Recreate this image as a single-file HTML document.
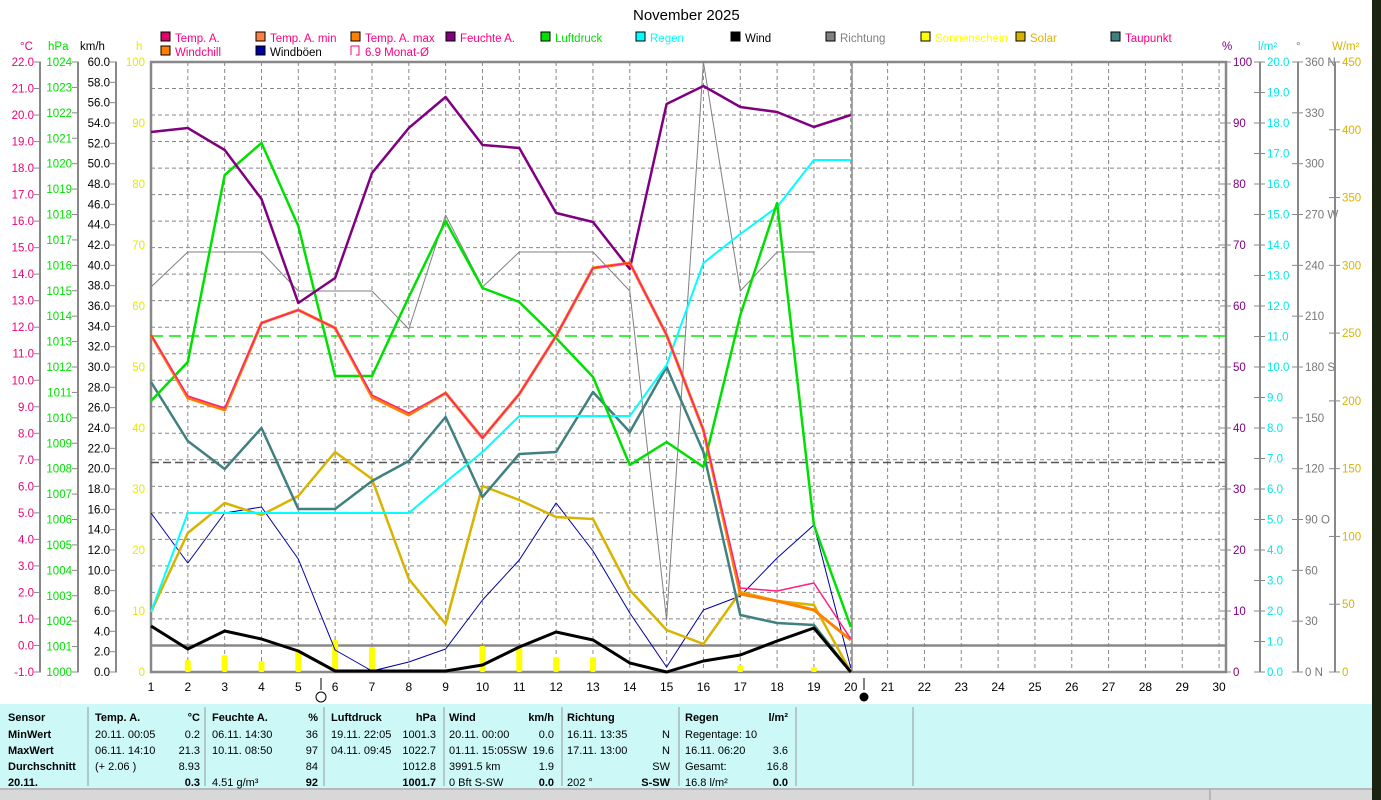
<!DOCTYPE html>
<html><head><meta charset="utf-8"><style>
body{margin:0;width:1381px;height:800px;overflow:hidden;background:#fff;font-family:"Liberation Sans",sans-serif}
svg{position:absolute;left:0;top:0}
</style></head><body>
<svg id="s" width="1381" height="800" xmlns="http://www.w3.org/2000/svg" font-family="Liberation Sans, sans-serif"></svg>
<script>
const S=document.getElementById('s');let h='';
const X=d=>151+(d-1)*36.83;
h+='<rect x="1372" y="0" width="9" height="800" fill="#1a2410"/>';
h+='<rect x="0" y="704" width="1372" height="84" fill="#ccf8f8"/>';
h+='<rect x="0" y="788" width="1372" height="12" fill="#d8d8d8"/><line x1="0" y1="789" x2="1372" y2="789" stroke="#999"/><line x1="1210" y1="789" x2="1210" y2="800" stroke="#999"/>';
[88,205,324,444,562,679,796,913].forEach(x=>h+=`<line x1="${x}" y1="707" x2="${x}" y2="786" stroke="#999"/>`);
for(let i=1;i<23;i++){let y=62+i*26.52;h+=`<line x1="151" y1="${y}" x2="1225" y2="${y}" stroke="#888" stroke-dasharray="4,3"/>`;}
for(let d=2;d<=30;d++){h+=`<line x1="${X(d)}" y1="62" x2="${X(d)}" y2="672" stroke="#888" stroke-dasharray="4,3"/>`;}
h+='<rect x="151" y="62" width="1075" height="610" fill="none" stroke="#888" stroke-width="2.5"/>';
h+='<line x1="852" y1="62" x2="852" y2="672" stroke="#888" stroke-width="1.5"/>';
h+='<line x1="151" y1="645.5" x2="1226" y2="645.5" stroke="#888" stroke-width="2.5"/>';
h+='<line x1="151" y1="336" x2="1226" y2="336" stroke="#0e0" stroke-width="1.5" stroke-dasharray="12,6"/>';
h+='<line x1="151" y1="462.5" x2="1226" y2="462.5" stroke="#555" stroke-width="1.5" stroke-dasharray="8,4"/>';
function axis(x,vals,col,fmt,y0,y1,lx){h+=`<line x1="${x}" y1="${y0}" x2="${x}" y2="${y1}" stroke="#888" stroke-width="2"/>`;
 vals.forEach((v,i)=>{let y=y0+(y1-y0)*i/(vals.length-1);h+=`<line x1="${x-6}" y1="${y}" x2="${x+1}" y2="${y}" stroke="#888"/><text x="${lx}" y="${y+4}" fill="${col}" font-size="11.5" text-anchor="end">${fmt(v)}</text>`;});}
let a=[];for(let v=22;v>=-1;v--)a.push(v);axis(40,a,'#f0007a',v=>v.toFixed(1),62,672,34);
a=[];for(let v=1024;v>=1000;v--)a.push(v);axis(78,a,'#00e000',v=>v,62,672,72);
a=[];for(let v=60;v>=0;v-=2)a.push(v);axis(116,a,'#000',v=>v.toFixed(1),62,672,110);
for(let i=0;i<=10;i++){let y=62+i*61;h+=`<text x="145" y="${y+4}" fill="#e8e800" font-size="11.5" text-anchor="end">${100-i*10}</text>`;}
function raxis(x,n,col,lab){h+=`<line x1="${x}" y1="62" x2="${x}" y2="672" stroke="#888" stroke-width="2"/>`;for(let i=0;i<=n;i++){let y=62+610*i/n;h+=`<line x1="${x-6}" y1="${y}" x2="${x+5}" y2="${y}" stroke="#888"/><text x="${x+7}" y="${y+4}" fill="${col}" font-size="11.5">${lab(i)}</text>`;}}
raxis(1226,10,'#800080',i=>100-i*10);
raxis(1260,20,'#00e8e8',i=>(20-i).toFixed(1));
const dl={0:' N',3:' W',6:' S',9:' O',12:' N'};
raxis(1298,12,'#777',i=>(360-i*30)+(dl[i]||''));
raxis(1335,9,'#d8b400',i=>450-i*50);
[[20,'°C','#f0007a'],[48,'hPa','#00e000'],[80,'km/h','#000'],[136,'h','#e8e800'],[1222,'%','#800080'],[1258,'l/m²','#00e8e8'],[1296,'°','#777'],[1332,'W/m²','#d8b400']].forEach(u=>h+=`<text x="${u[0]}" y="50" fill="${u[2]}" font-size="11.5">${u[1]}</text>`);
h+='<text x="633" y="20" font-size="15" fill="#000">November 2025</text>';
const L=[[161,38,'#e0006a','Temp. A.','#ff0080'],[256,38,'#ff8040','Temp. A. min','#ff0080'],[351,38,'#ff8000','Temp. A. max','#ff0080'],[446,38,'#800080','Feuchte A.','#ff0080'],[541,38,'#00e000','Luftdruck','#00e000'],[636,38,'#00ffff','Regen','#00ffff'],[731,38,'#000','Wind','#000'],[826,38,'#808080','Richtung','#808080'],[921,38,'#ffff00','Sonnenschein','#ffff00'],[1016,38,'#d8b400','Solar','#d8b400'],[1111,38,'#408080','Taupunkt','#ff0080'],[161,52,'#ff8000','Windchill','#ff0080'],[256,52,'#0000a0','Windböen','#000']];
L.forEach(l=>h+=`<rect x="${l[0]}" y="${l[1]-6}" width="9" height="9" fill="${l[2]}" stroke="#000"/><text x="${l[0]+14}" y="${l[1]+4}" fill="${l[4]}" font-size="11.5">${l[3]}</text>`);
h+='<path d="M351 46 h8 v9 h-3 M351 46 v9" fill="none" stroke="#ff0080"/><text x="365" y="56" fill="#ff0080" font-size="11.5">6.9 Monat-Ø</text>';
function line(ys,col,w,start=1){let p=ys.map((y,i)=>`${X(i+start).toFixed(1)},${y}`).join(' ');h+=`<polyline points="${p}" fill="none" stroke="${col}" stroke-width="${w}" stroke-linejoin="round"/>`;}
[[2,660],[3,655],[4,661],[5,651],[6,640],[7,647],[8,669],[10,646],[11,648],[12,657],[13,657],[17,665],[19,667]].forEach(b=>h+=`<rect x="${X(b[0])-3}" y="${b[1]}" width="6" height="${672-b[1]}" rx="2" fill="#ffff00"/>`);
line([287,252,252,252,291,291,291,329,215,287,252,252,252,291,620,62,291,252,252],'#808080',1);
line([513,563,513,507,559,650,671,662,649,600,560,503,551,613,667,610,596,558,525,668],'#0000a0',1);
line([612,533,503,515,496,452,479,579,624,486,500,517,519,590,630,644,592,601,605,672],'#d8b400',2.5);
line([382,441,469,428,509,509,481,461,417,497,454,452,392,432,367,452,615,623,625,672],'#408080',2.5);
line([612,513,513,513,513,513,513,513,482,452,416,416,416,416,365,263,234,207,160,160],'#00ffff',2);
line([401,362,175,143,226,376,376,297,221,288,302,338,377,465,442,467,315,203,525,627],'#00e000',2.5);
line([132,128,150,199,303,278,173,128,97,145,148,213,222,269,104,86,107,112,127,115],'#800080',2.5);
line([335,398,410,323,310,328,397,415,393,438,394,336,268,263,335,430,594,601,610,640],'#ff8000',3);
line([335,396,408,323,310,328,395,413,393,438,394,336,268,263,335,430,588,591,583,639],'#ff2080',1.5);
line([626,649,631,639,651,671,671,671,671,665,647,632,640,663,672,661,655,641,628,672],'#000',3);
for(let d=1;d<=30;d++)h+=`<text x="${X(d)}" y="691" font-size="12" text-anchor="middle">${d}</text>`;
h+='<line x1="321" y1="678" x2="321" y2="690" stroke="#000"/><circle cx="321" cy="697" r="5" fill="none" stroke="#000"/>';
h+='<line x1="864" y1="678" x2="864" y2="690" stroke="#000"/><circle cx="864" cy="697" r="4.5" fill="#000"/>';
const rows=[717,734,750,766,782];
function t(x,y,s,anc='start',b=false){h+=`<text x="${x}" y="${y}" font-size="11" ${b?'font-weight="bold"':''} text-anchor="${anc}">${s}</text>`;}
['Sensor','MinWert','MaxWert','Durchschnitt','20.11.'].forEach((s,i)=>t(8,rows[i]+4,s,'start',true));
const cols=[[95,200,'Temp. A.','°C',['20.11.  00:05','06.11.  14:10','(+ 2.06 )',''],['0.2','21.3','8.93','0.3']],
[212,318,'Feuchte A.','%',['06.11.  14:30','10.11.  08:50','','4.51 g/m³'],['36','97','84','92']],
[331,436,'Luftdruck','hPa',['19.11.  22:05','04.11.  09:45','',''],['1001.3','1022.7','1012.8','1001.7']],
[449,554,'Wind','km/h',['20.11.  00:00','01.11.  15:05SW','3991.5 km','0 Bft S-SW'],['0.0','19.6','1.9','0.0']],
[567,670,'Richtung','',['16.11.  13:35','17.11.  13:00','','202 °'],['N','N','SW','S-SW']],
[685,788,'Regen','l/m²',['Regentage: 10','16.11.  06:20','Gesamt:','16.8 l/m²'],['','3.6','16.8','0.0']]];
cols.forEach(c=>{t(c[0],rows[0]+4,c[2],'start',true);t(c[1],rows[0]+4,c[3],'end',true);
c[4].forEach((s,i)=>t(c[0],rows[i+1]+4,s));c[5].forEach((s,i)=>t(c[1],rows[i+1]+4,s,'end',i==3));});
S.innerHTML=h;
</script>
</body></html>
